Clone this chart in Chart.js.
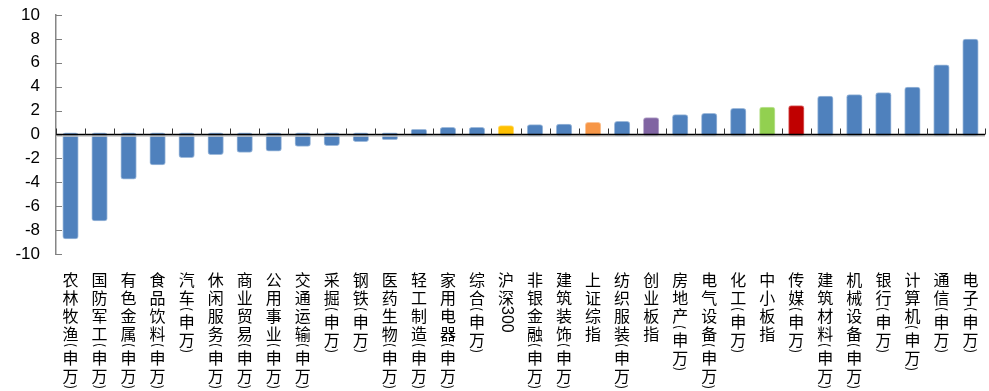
<!DOCTYPE html>
<html>
<head>
<meta charset="utf-8">
<script src="https://cdn.jsdelivr.net/npm/chart.js@4/dist/chart.umd.min.js"></script>
<style>
  html, body { margin: 0; padding: 0; background: #fff; }
  #wrap { width: 989px; height: 391px; position: relative; }
</style>
</head>
<body>
<div id="wrap"><canvas id="chart"></canvas></div>
<script>
// industry / index names, sorted by change
const categories = [
    '农林牧渔(申万)', '国防军工(申万)', '有色金属(申万)', '食品饮料(申万)', '汽车(申万)',
    '休闲服务(申万)', '商业贸易(申万)', '公用事业(申万)', '交通运输(申万)', '采掘(申万)',
    '钢铁(申万)', '医药生物(申万)', '轻工制造(申万)', '家用电器(申万)', '综合(申万)',
    '沪深300', '非银金融(申万)', '建筑装饰(申万)', '上证综指', '纺织服装(申万)',
    '创业板指', '房地产(申万)', '电气设备(申万)', '化工(申万)', '中小板指',
    '传媒(申万)', '建筑材料(申万)', '机械设备(申万)', '银行(申万)', '计算机(申万)',
    '通信(申万)', '电子(申万)'
];

// change in %
const changes = [
    -8.6, -7.1, -3.6, -2.4, -1.8,
    -1.55, -1.35, -1.25, -0.85, -0.8,
    -0.45, -0.3, 0.3, 0.45, 0.45,
    0.6, 0.68, 0.74, 0.88, 0.96,
    1.27, 1.52, 1.63, 2.05, 2.16,
    2.28, 3.08, 3.2, 3.36, 3.83,
    5.7, 7.85
];

const yMin = -10;
const yMax = 10;
const yStep = 2;

// colours for the highlighted bars, blue for the rest
const baseColor = '#4F81BD';
const highlight = {
    '沪深300': '#FFC000',
    '上证综指': '#F79646',
    '创业板指': '#8064A2',
    '中小板指': '#92D050',
    '传媒(申万)': '#C00000'
};

// lighter tint of a hex colour, for the soft bar edge
function tint(hex, t) {
    const n = parseInt(hex.slice(1), 16);
    const r = (n >> 16) & 255, g = (n >> 8) & 255, b = n & 255;
    const mix = c => Math.round(c + (255 - c) * t);
    return `rgb(${mix(r)},${mix(g)},${mix(b)})`;
}

const barColors = categories.map(c => highlight[c] || baseColor);
const barEdges = barColors.map(c => tint(c, 0.45));

const labelFont = '16px "Noto Sans CJK SC", sans-serif';

/**
 * Axis decorations: zero line, inside ticks, vertical x labels
 */
const axisPlugin = {
    id: 'axisDecor',
    afterDatasetsDraw(chart) {
        const ctx = chart.ctx;
        const xs = chart.scales.x;
        const ys = chart.scales.y;
        const area = chart.chartArea;
        const y0 = ys.getPixelForValue(0);

        ctx.save();

        // y axis ticks (inside)
        ctx.strokeStyle = '#7f7f7f';
        ctx.lineWidth = 1;
        ys.ticks.forEach(t => {
            const y = Math.round(ys.getPixelForValue(t.value)) + 0.5;
            ctx.beginPath();
            ctx.moveTo(area.left, y);
            ctx.lineTo(area.left + 6, y);
            ctx.stroke();
        });

        // zero line with its soft grey shadow
        ctx.strokeStyle = '#c8c8c8';
        ctx.lineWidth = 1.5;
        ctx.beginPath();
        ctx.moveTo(area.left, y0 + 1.5);
        ctx.lineTo(area.right, y0 + 1.5);
        ctx.stroke();
        ctx.strokeStyle = '#000';
        ctx.lineWidth = 1.5;
        ctx.beginPath();
        ctx.moveTo(area.left, y0);
        ctx.lineTo(area.right, y0);
        ctx.stroke();

        // category boundary ticks, pointing up
        ctx.lineWidth = 1;
        ctx.strokeStyle = '#333';
        const step = (area.right - area.left) / categories.length;
        for (let i = 0; i <= categories.length; i++) {
            const x = Math.round(area.left + i * step) + 0.5;
            ctx.beginPath();
            ctx.moveTo(x, y0);
            ctx.lineTo(x, y0 - 6);
            ctx.stroke();
        }

        // vertical labels
        ctx.fillStyle = '#000';
        ctx.font = labelFont;
        ctx.textAlign = 'center';
        ctx.textBaseline = 'middle';
        const lineH = 18;
        categories.forEach((name, i) => {
            const x = xs.getPixelForValue(i);
            let y = 280;
            let k = 0;
            while (k < name.length) {
                const ch = name[k];
                if (ch === '(' || ch === ')') {
                    // half-width bracket, turned for vertical text
                    ctx.save();
                    ctx.font = '13px "Noto Sans CJK SC", sans-serif';
                    ctx.translate(x, y - lineH / 2 + 2);
                    ctx.rotate(Math.PI / 2);
                    ctx.fillText(ch, 0, 0);
                    ctx.restore();
                    y += 6;
                    k++;
                } else if (/[0-9]/.test(ch)) {
                    let run = '';
                    while (k < name.length && /[0-9]/.test(name[k])) {
                        run += name[k];
                        k++;
                    }
                    ctx.save();
                    ctx.font = '16px "Liberation Sans", Arial, sans-serif';
                    const w = ctx.measureText(run).width;
                    ctx.translate(x, y - lineH / 2 + w / 2 - 1);
                    ctx.rotate(Math.PI / 2);
                    ctx.fillText(run, 0, 0);
                    ctx.restore();
                    y += w;
                } else {
                    ctx.fillText(ch, x, y);
                    y += lineH;
                    k++;
                }
            }
        });

        ctx.restore();
    }
};

new Chart(document.getElementById('chart'), {
    type: 'bar',
    data: {
        labels: categories,
        datasets: [{
            data: changes,
            backgroundColor: barColors,
            borderColor: barEdges,
            borderWidth: 1,
            borderRadius: 3,
            borderSkipped: false,
            inflateAmount: 2,
            barPercentage: 0.42,
            categoryPercentage: 1
        }]
    },
    options: {
        responsive: true,
        maintainAspectRatio: false,
        animation: false,
        layout: {
            autoPadding: false,
            padding: { top: 15, right: 4, bottom: 137, left: 0 }
        },
        plugins: {
            legend: { display: false },
            tooltip: { enabled: false }
        },
        scales: {
            x: {
                display: false
            },
            y: {
                min: yMin,
                max: yMax,
                afterFit: s => {
                    // fixed axis width, no extra label padding above/below
                    s.width = 56;
                    s.paddingTop = 0;
                    s.paddingBottom = 0;
                },
                grid: { display: false },
                border: { display: true, color: '#868686', width: 1.5 },
                ticks: {
                    stepSize: yStep,
                    padding: 8,
                    color: '#000',
                    font: { family: '"Liberation Sans", Arial, sans-serif', size: 17 }
                }
            }
        }
    },
    plugins: [axisPlugin]
});
</script>
</body>
</html>
